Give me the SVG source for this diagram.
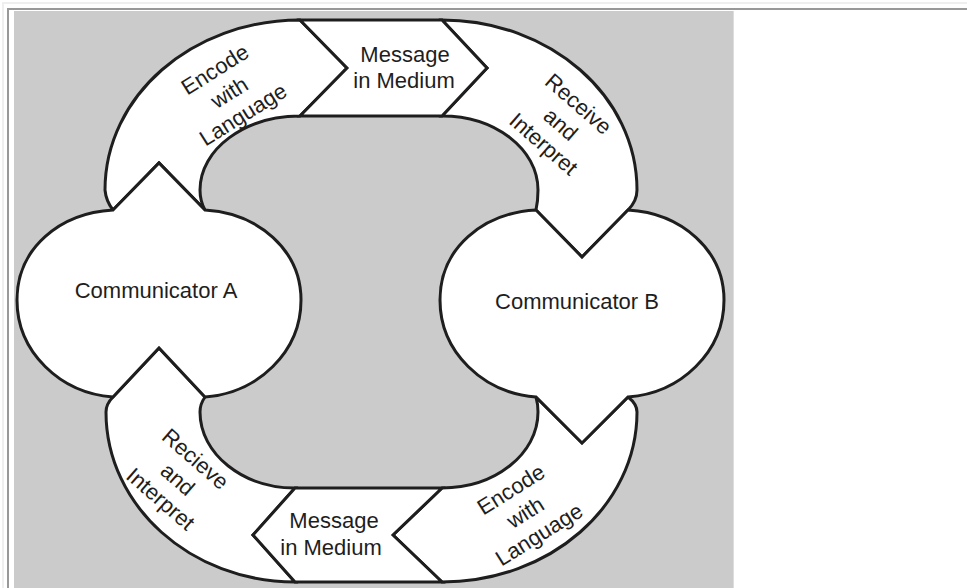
<svg xmlns="http://www.w3.org/2000/svg" width="967" height="588" viewBox="0 0 967 588">
<style>
.shape{fill:#ffffff;stroke:#1e1e1e;stroke-width:3;stroke-linejoin:miter}
.lbl{font-family:"Liberation Sans",Arial,sans-serif;font-size:22px;fill:#1e1e1e;text-anchor:middle}
</style>
<rect x="0" y="0" width="967" height="588" fill="#ffffff"/>
<path d="M3,588 V3 H967" fill="none" stroke="#efefef" stroke-width="2"/>
<path d="M8,588 V9 H967" fill="none" stroke="#999999" stroke-width="2"/>
<rect x="14" y="11" width="720" height="577" fill="#cbcbcb"/>
<line x1="733.5" y1="11" x2="733.5" y2="588" stroke="#dddddd" stroke-width="1"/>
<g id="connectors">
  <g id="band-top-left">
    <path class="shape" d="M113,210 Q106,201 105,190 C105,96 192,20 300,20 L347,68 L300,116 C245,116 200,149 200,190 Q200,201 205,210 L159,163 Z"/>
    <g transform="translate(229,92) rotate(-32)">
      <text class="lbl" x="0" y="-19">Encode</text>
      <text class="lbl" x="0" y="8">with</text>
      <text class="lbl" x="0" y="34">Language</text>
    </g>
  </g>
  <g id="band-top-right">
    <path class="shape" d="M442,20 C550,20 637,96 637,190 Q637,201 628,210 L582,257 L536,210 Q538,201 538,190 C538,149 495,116 442,116 L487,68 Z"/>
    <g transform="translate(561,124) rotate(41)">
      <text class="lbl" x="0" y="-19">Receive</text>
      <text class="lbl" x="0" y="8">and</text>
      <text class="lbl" x="0" y="34">Interpret</text>
    </g>
  </g>
  <g id="band-bottom-right">
    <path class="shape" d="M628,397 Q637,404 637,412 C637,506 550,582 442,582 L393,535 L442,488 C495,488 538,454 538,412 Q538,404 536,397 L582,443 Z"/>
    <g transform="translate(525,512) rotate(-32)">
      <text class="lbl" x="0" y="-19">Encode</text>
      <text class="lbl" x="0" y="8">with</text>
      <text class="lbl" x="0" y="34">Language</text>
    </g>
  </g>
  <g id="band-bottom-left">
    <path class="shape" d="M295,488 L253,535 L295,582 C191,582 106,506 106,412 Q106,404 113,397 L159,348 L205,397 Q200,404 200,412 C200,454 243,488 295,488 Z"/>
    <g transform="translate(178,479) rotate(41)">
      <text class="lbl" x="0" y="-19">Recieve</text>
      <text class="lbl" x="0" y="8">and</text>
      <text class="lbl" x="0" y="34">Interpret</text>
    </g>
  </g>
</g>
<g id="message-top">
  <path class="shape" d="M300,20 L442,20 L487,68 L442,116 L300,116 L347,68 Z"/>
  <text class="lbl" x="405" y="62">Message</text>
  <text class="lbl" x="404" y="88">in Medium</text>
</g>
<g id="message-bottom">
  <path class="shape" d="M442,488 L295,488 L253,535 L295,582 L442,582 L393,535 Z"/>
  <text class="lbl" x="334" y="528">Message</text>
  <text class="lbl" x="331" y="555">in Medium</text>
</g>
<g id="communicator-a">
  <path class="shape" d="M113,210 L159,163 L205,210 C258,213 301,250 301,300 C301,352 258,393 205,397 L159,348 L113,397 C60,393 17,352 17,300 C17,248 60,213 113,210 Z"/>
  <text class="lbl" x="156" y="298">Communicator A</text>
</g>
<g id="communicator-b">
  <path class="shape" d="M536,210 L582,257 L628,210 C681,213 724,250 724,300 C724,352 681,393 628,397 L582,443 L536,397 C483,393 440,352 440,300 C440,248 483,213 536,210 Z"/>
  <text class="lbl" x="577" y="309">Communicator B</text>
</g>
</svg>
